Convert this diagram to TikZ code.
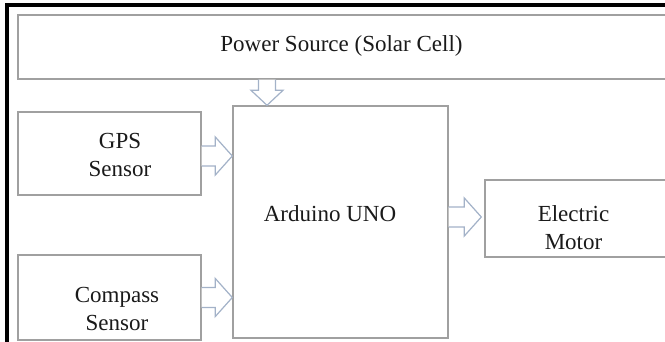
\documentclass[tikz,border=0pt]{standalone}
\usepackage{fontspec}
\setmainfont{Liberation Serif}
\usetikzlibrary{calc}
\definecolor{boxgray}{HTML}{A0A0A0}
\definecolor{arrowblue}{HTML}{A3B2C8}
\definecolor{textblack}{HTML}{1A1A1A}
\newcommand{\myharrow}[2]{\draw[blockarrow] ($(#1)+(0,-10)$) -- ($(#2)+(-17,-10)$) -- ($(#2)+(-17,-19)$) -- (#2) -- ($(#2)+(-17,19)$) -- ($(#2)+(-17,10)$) -- ($(#1)+(0,10)$);}
\begin{document}
\begin{tikzpicture}[x=1pt,y=-1pt,
  box/.style={draw=boxgray, line width=1.4pt, fill=white, inner sep=0pt, rectangle},
  lbl/.style={font=\fontsize{23}{28}\selectfont, text=textblack, align=center, inner sep=0pt},
  blockarrow/.style={draw=arrowblue, line width=1.2pt, fill=white, line join=miter}]
\useasboundingbox (0,0) rectangle (665,342);
\fill[white] (0,0) rectangle (665,342);
% outer frame
\draw[black, line width=3.5pt] (7,345) -- (7,5) -- (668,5);
% boxes
\node[box, minimum width=650pt, minimum height=64pt] (power) at (343,47) {};
\node[box, minimum width=183pt, minimum height=83pt] (gps) at (109.5,153.5) {};
\node[box, minimum width=183pt, minimum height=85pt] (compass) at (109.5,297.5) {};
\node[box, minimum width=215pt, minimum height=232pt] (ard) at (340.5,222) {};
\node[box, minimum width=182pt, minimum height=77pt] (motor) at (576,218.5) {};
% texts
\node[lbl, anchor=base] (powertxt) at (341.5,52) {Power Source (Solar Cell)};
\node[lbl] (gpstxt) at (120,155) {GPS\\Sensor};
\node[lbl] (comptxt) at (117,309) {Compass\\Sensor};
\node[lbl, anchor=base] (ardtxt) at (330,222) {Arduino UNO};
\node[lbl] (motortxt) at (573.5,228) {Electric\\Motor};
% arrow anchor points
\coordinate (g1) at ($(gps.east)+(0,2.5)$);
\coordinate (g2) at (g1 -| ard.west);
\coordinate (c1) at (compass.east);
\coordinate (c2) at (c1 -| ard.west);
\coordinate (m2) at ($(motor.west)+(-3,-1.5)$);
\coordinate (m1) at (m2 -| ard.east);
\coordinate (p1) at (power.south -| 267,0);
\coordinate (p2) at (p1 |- ard.north);
% block arrows
\myharrow{g1}{g2}
\myharrow{c1}{c2}
\myharrow{m1}{m2}
\draw[blockarrow] ($(p1)+(-8.5,0)$) -- ($(p2)+(-8.5,-15)$) -- ($(p2)+(-16,-15)$) -- (p2) -- ($(p2)+(16,-15)$) -- ($(p2)+(8.5,-15)$) -- ($(p1)+(8.5,0)$);
\end{tikzpicture}
\end{document}
